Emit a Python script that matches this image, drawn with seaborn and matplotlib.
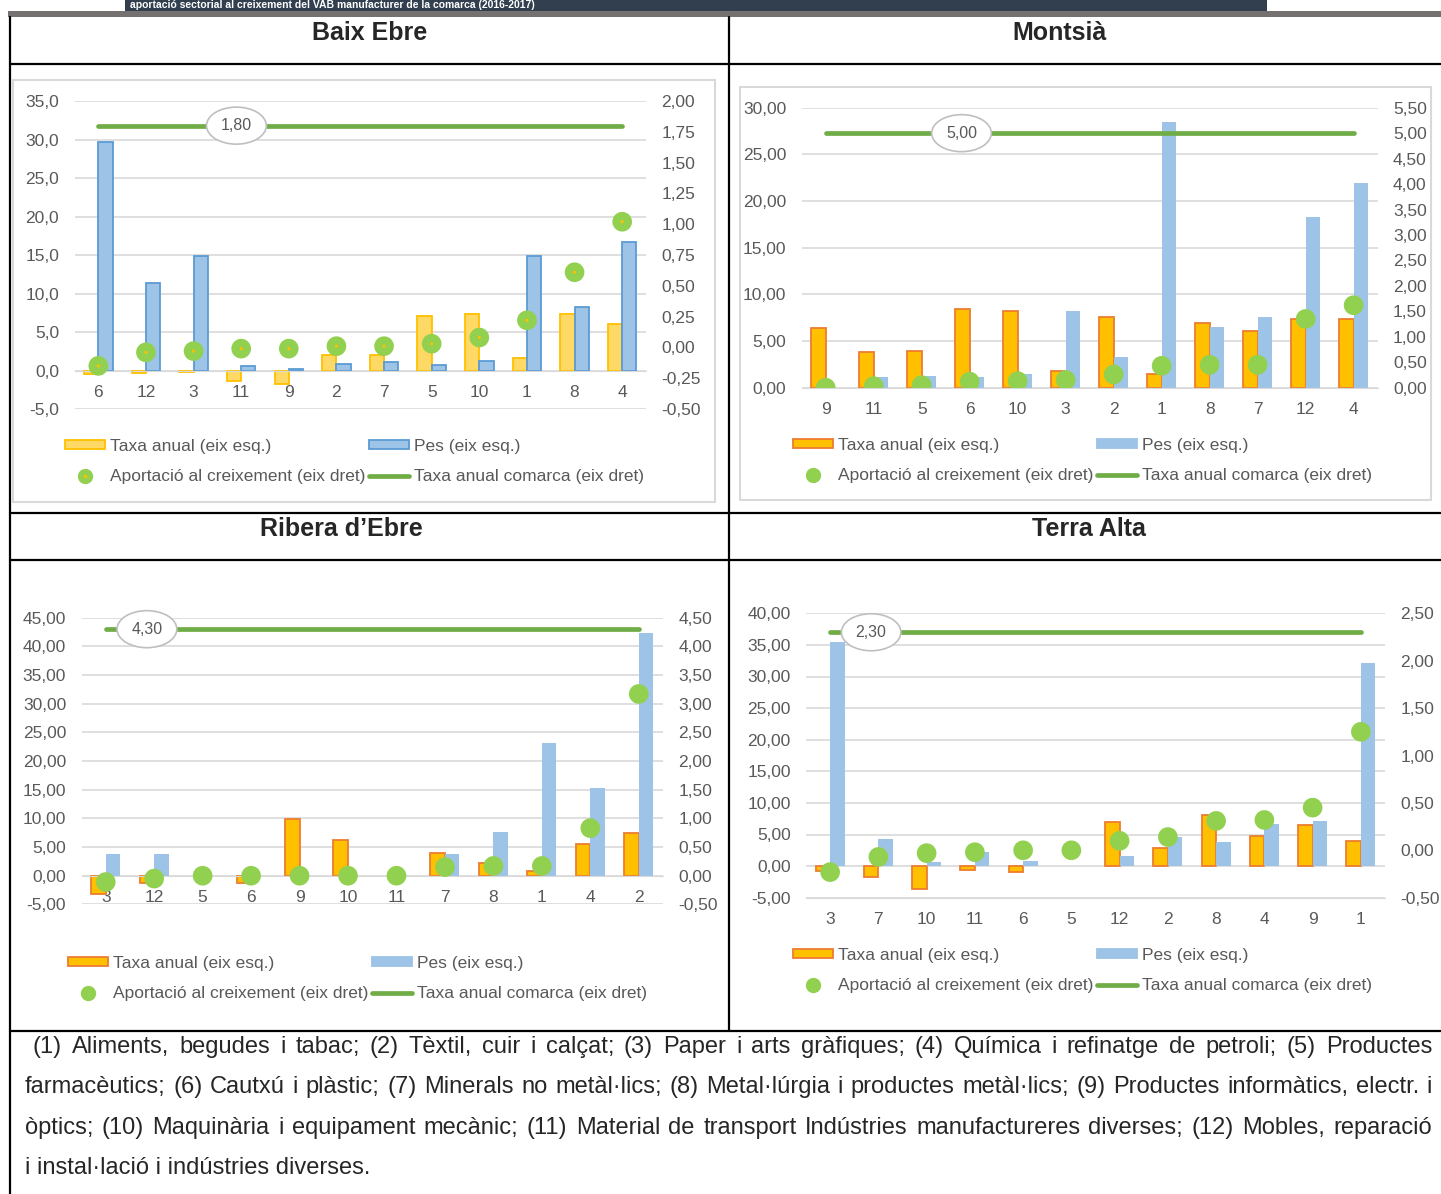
import numpy as np
import pandas as pd
import seaborn as sns
import matplotlib.pyplot as plt
from matplotlib.lines import Line2D
from matplotlib.patches import Patch, Rectangle
from matplotlib.ticker import FuncFormatter

W, H = 1441, 1194

# Baix Ebre
be_sect = ['6', '12', '3', '11', '9', '2', '7', '5', '10', '1', '8', '4']
be_taxa = [-0.5, -0.3, -0.2, -1.3, -1.7, 2.0, 2.0, 7.1, 7.4, 1.6, 7.4, 6.1]
be_pes = [29.7, 11.3, 14.9, 0.6, 0.2, 0.8, 1.1, 0.7, 1.2, 14.9, 8.2, 16.7]
be_aport = [-0.15, -0.04, -0.03, -0.01, -0.01, 0.01, 0.01, 0.03, 0.08, 0.22, 0.61, 1.02]
be_comarca = 1.80

# Montsià
mo_sect = ['9', '11', '5', '6', '10', '3', '2', '1', '8', '7', '12', '4']
mo_taxa = [6.36, 3.86, 3.96, 8.43, 8.25, 1.79, 7.57, 1.47, 6.96, 6.11, 7.39, 7.39]
mo_pes = [np.nan, 1.1, 1.25, 1.1, 1.43, 8.2, 3.29, 28.5, 6.54, 7.54, 18.26, 21.96]
mo_aport = [0.0, 0.03, 0.05, 0.12, 0.13, 0.15, 0.26, 0.43, 0.45, 0.45, 1.35, 1.62]
mo_comarca = 5.00

# Ribera d'Ebre
re_sect = ['3', '12', '5', '6', '9', '10', '11', '7', '8', '1', '4', '2']
re_taxa = [-3.2, -1.3, np.nan, -1.3, 9.83, 6.16, np.nan, 3.96, 2.15, 0.82, 5.47, 7.5]
re_pes = [3.72, 3.72, np.nan, np.nan, np.nan, np.nan, np.nan, 3.72, 7.62, 23.1, 15.3, 42.3]
re_aport = [-0.11, -0.05, 0.0, 0.0, 0.0, 0.0, 0.0, 0.15, 0.17, 0.17, 0.83, 3.17]
re_comarca = 4.30

# Terra Alta
ta_sect = ['3', '7', '10', '11', '6', '5', '12', '2', '8', '4', '9', '1']
ta_taxa = [-0.74, -1.74, -3.64, -0.58, -0.9, np.nan, 6.96, 2.85, 8.11, 4.74, 6.48, 4.0]
ta_pes = [35.5, 4.27, 0.63, 2.27, 0.84, np.nan, 1.58, 4.64, 3.79, 6.69, 7.06, 32.2]
ta_aport = [-0.23, -0.07, -0.03, -0.02, 0.0, 0.0, 0.10, 0.14, 0.31, 0.32, 0.45, 1.25]
ta_comarca = 2.30

LAB_TAXA = 'Taxa anual (eix esq.)'
LAB_PES = 'Pes (eix esq.)'
LAB_APORT = 'Aportació al creixement (eix dret)'
LAB_COM = 'Taxa anual comarca (eix dret)'

nota = ['(1) Aliments, begudes i tabac; (2) Tèxtil, cuir i calçat; (3) Paper i arts gràfiques; (4) Química i refinatge de petroli; (5) Productes',
        'farmacèutics; (6) Cautxú i plàstic; (7) Minerals no metàl·lics; (8) Metal·lúrgia i productes metàl·lics; (9) Productes informàtics, electr. i',
        'òptics; (10) Maquinària i equipament mecànic; (11) Material de transport Indústries manufactureres diverses; (12) Mobles, reparació',
        'i instal·lació i indústries diverses.']

GRID = '#D9D9D9'
TXT = '#595959'
DOT = '#92D050'
LINE = '#70AD47'

sns.set_style('white')
plt.rcParams['font.family'] = ['Liberation Sans', 'DejaVu Sans']

fig = plt.figure(figsize=(W / 100, H / 100), dpi=100)


def fx(x):
    return x / W


def fy(y):
    return 1 - y / H


def fmt(dec):
    return FuncFormatter(lambda v, p: f'{v:.{dec}f}'.replace('.', ','))


def panel(box, sect, taxa, pes, aport, comarca, ylim, ystep, y2lim, y2step, dec,
          c_taxa, c_pes, label_x, punt, eix_zero):
    x0, y0, x1, y1 = box
    ax = fig.add_axes([fx(x0), fy(y1), (x1 - x0) / W, (y1 - y0) / H])
    n = len(sect)
    df = pd.DataFrame({'sector': sect * 2,
                       'valor': list(taxa) + list(pes),
                       'serie': [LAB_TAXA] * n + [LAB_PES] * n})
    sns.barplot(data=df, x='sector', y='valor', hue='serie', order=sect,
                hue_order=[LAB_TAXA, LAB_PES], palette=[c_taxa[0], c_pes[0]],
                width=0.6, saturation=1, legend=False, errorbar=None, ax=ax)
    for bars, (fc, ec) in zip(ax.containers, [c_taxa, c_pes]):
        for b in bars:
            b.set_edgecolor(ec if ec else fc)
            b.set_linewidth(1.3 if ec else 0)
    ax.set_ylim(*ylim)
    ax.set_yticks(np.arange(ylim[0], ylim[1] + ystep / 2, ystep))
    ax.yaxis.set_major_formatter(fmt(dec))
    ax.grid(axis='y', color=GRID, lw=1.2)
    ax.set_axisbelow(True)
    ax.set_xlabel('')
    ax.set_ylabel('')
    for s in ['top', 'right', 'left']:
        ax.spines[s].set_visible(False)
    ax.spines['bottom'].set_color(GRID)
    if eix_zero:
        ax.spines['bottom'].set_position(('data', 0))
    ax.tick_params(length=0, labelsize=12.5, colors=TXT)
    ax.tick_params(axis='x', pad=10.5)
    ax.tick_params(axis='y', pad=11)
    ax.set_facecolor('none')

    ax2 = ax.twinx()
    sns.lineplot(x=np.arange(n), y=[comarca] * n, color=LINE, lw=3.4, ax=ax2)
    sns.scatterplot(x=np.arange(n), y=aport, color=DOT, s=200, edgecolor='none',
                    ax=ax2, zorder=5)
    if punt:
        sns.scatterplot(x=np.arange(n), y=aport, color='#FFC000', s=5,
                        edgecolor='none', ax=ax2, zorder=6)
    ax2.set_ylim(*y2lim)
    ax2.set_yticks(np.arange(y2lim[0], y2lim[1] + y2step / 2, y2step))
    ax2.yaxis.set_major_formatter(fmt(2))
    ax2.tick_params(length=0, labelsize=12.5, colors=TXT, pad=11)
    for s in ax2.spines.values():
        s.set_visible(False)
    ax2.set_ylabel('')
    ax2.text(label_x, comarca, f'{comarca:.2f}'.replace('.', ','), ha='center',
             va='center', fontsize=11.5, color=TXT, zorder=7,
             bbox=dict(boxstyle='ellipse,pad=0.35', fc='white', ec='#BFBFBF', lw=1.2))
    ax.set_xlim(-0.5, n - 0.5)
    return ax


def llegenda(x, y, c_taxa, c_pes, punt):
    h_taxa = Patch(facecolor=c_taxa[0], edgecolor=c_taxa[1] or c_taxa[0], lw=1.3)
    h_pes = Patch(facecolor=c_pes[0], edgecolor=c_pes[1] or c_pes[0], lw=1.3)
    h_dot = Line2D([], [], marker='o', ls='none', color=DOT, markersize=10)
    if punt:
        h_dot = (h_dot, Line2D([], [], marker='o', ls='none', color='#FFC000', markersize=1.5))
    h_line = Line2D([], [], color=LINE, lw=3.4)
    fig.legend([h_taxa, h_dot, h_pes, h_line], [LAB_TAXA, LAB_APORT, LAB_PES, LAB_COM],
               ncol=2, loc='center left', bbox_to_anchor=(fx(x), fy(y)), frameon=False,
               fontsize=12.5, labelcolor=TXT, handlelength=2.3, handleheight=0.5,
               handletextpad=0.3, columnspacing=0.2, labelspacing=0.9,
               borderpad=0, borderaxespad=0)


# capçalera (retallada a l'original)
fig.add_artist(Rectangle((fx(125), fy(11)), (1267 - 125) / W, 11 / H,
                         transform=fig.transFigure, fc='#323F4F', ec='none'))
fig.text(fx(130), fy(5.5), 'aportació sectorial al creixement del VAB manufacturer de la comarca (2016-2017)',
         color='white', fontsize=7.5, fontweight='bold', va='center')
fig.add_artist(Rectangle((fx(8), fy(17)), (W - 8) / W, 6 / H,
                         transform=fig.transFigure, fc='#767171', ec='none'))

# graella de la taula
for (xa, ya, xb, yb) in [(10, 17, 10, H), (729, 17, 729, 1031),
                         (10, 64, W, 64), (10, 513, W, 513), (10, 560, W, 560),
                         (10, 1031, W, 1031)]:
    fig.add_artist(Line2D([fx(xa), fx(xb)], [fy(ya), fy(yb)], color='black', lw=1.6,
                          transform=fig.transFigure))

for t, x, y in [('Baix Ebre', 370, 33), ('Montsià', 1060, 33),
                ('Ribera d’Ebre', 341, 529), ('Terra Alta', 1089, 529)]:
    fig.text(fx(x), fy(y), t, ha='center', va='center', fontsize=18, fontweight='bold')

# marcs dels gràfics superiors
for (xa, ya, xb, yb) in [(13, 80, 715, 502), (740, 87, 1431, 500)]:
    fig.add_artist(Rectangle((fx(xa), fy(yb)), (xb - xa) / W, (yb - ya) / H,
                             transform=fig.transFigure, fill=False, ec=GRID, lw=1.5))

c_be_taxa = ('#FFD966', '#FFC000')
c_be_pes = ('#9DC3E6', '#5B9BD5')
c_taxa = ('#FFC000', '#ED7D31')
c_pes = ('#9DC3E6', None)

panel((74.5, 101, 646, 409), be_sect, be_taxa, be_pes, be_aport, be_comarca,
      (-5, 35), 5, (-0.5, 2.0), 0.25, 1, c_be_taxa, c_be_pes, 2.9, True, True)
panel((801.7, 107.7, 1377.6, 387.7), mo_sect, mo_taxa, mo_pes, mo_aport, mo_comarca,
      (0, 30), 5, (0, 5.5), 0.5, 2, c_taxa, c_pes, 2.83, False, True)
panel((81.5, 617.7, 663, 904.4), re_sect, re_taxa, re_pes, re_aport, re_comarca,
      (-5, 45), 5, (-0.5, 4.5), 0.5, 2, c_taxa, c_pes, 0.85, False, True)
panel((806, 613.3, 1385, 897.7), ta_sect, ta_taxa, ta_pes, ta_aport, ta_comarca,
      (-5, 40), 5, (-0.5, 2.5), 0.5, 2, c_taxa, c_pes, 0.85, False, False)

llegenda(65, 461.5, c_be_taxa, c_be_pes, True)
llegenda(793, 460.5, c_taxa, c_pes, False)
llegenda(68, 978.5, c_taxa, c_pes, False)
llegenda(793, 970.5, c_taxa, c_pes, False)

# nota al peu, justificada
renderer = fig.canvas.get_renderer()
FS = 17
for i, (linia, y) in enumerate(zip(nota, [1047, 1087, 1128, 1168])):
    x0 = 33 if i == 0 else 25
    if i == len(nota) - 1:
        fig.text(fx(x0), fy(y), linia, fontsize=FS, va='center')
        continue
    paraules = linia.split(' ')
    txts = [fig.text(0, fy(y), p, fontsize=FS, va='center') for p in paraules]
    amples = [t.get_window_extent(renderer).width for t in txts]
    buit = (1432 - x0 - sum(amples)) / (len(paraules) - 1)
    x = x0
    for t, a in zip(txts, amples):
        t.set_x(fx(x))
        x += a + buit

fig.savefig('out.png', dpi=100)
